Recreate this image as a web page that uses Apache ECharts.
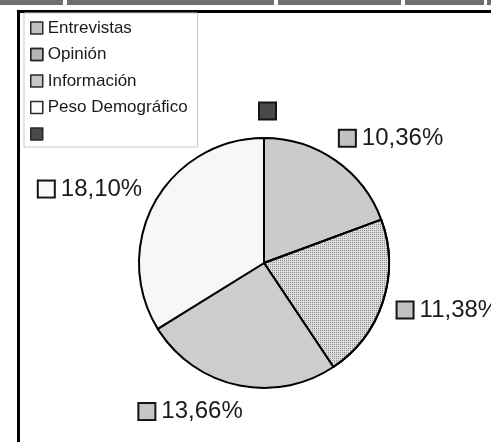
<!DOCTYPE html>
<html>
<head>
<meta charset="utf-8">
<script src="https://cdn.jsdelivr.net/npm/echarts@6/dist/echarts.min.js"></script>
<style>
    html, body { margin: 0; padding: 0; background: #fff; }
    #main { width: 491px; height: 442px; }
</style>
</head>
<body>
<div id="main"></div>
<script>
// categories (the last one has no name in the source, only a dark key)
const categories = ['Entrevistas', 'Opinión', 'Información', 'Peso Demográfico', ' ']
// percentages shown on the labels
const values = [10.36, 11.38, 13.66, 18.10, 0]

const sliceColors = ['#cbcbcb', '#dcdcdc', '#cdcdcd', '#f7f7f7', '#505050']
const keyColors = ['#c2c2c2', '#c2c2c2', '#c6c6c6', '#fbfbfb', '#4a4a4a']

const font = 'Liberation Sans, Arial, sans-serif'

function fmt(v) {
    if (!v) return ''
    return v.toFixed(2).replace('.', ',') + '%'
}

let rich = {
    t: { fontSize: 24, color: '#1a1a1a', fontFamily: font, padding: [0, 0, 0, 7] }
}
keyColors.forEach(function(c, i) {
    rich['k' + i] = { width: 15, height: 15, backgroundColor: c, borderColor: '#151515', borderWidth: 2 }
})

let option = {
    animation: false,
    backgroundColor: '#fff',
    graphic: [
        // strip of the page header above the frame
        { type: 'rect', shape: { x: 0, y: 0, width: 63, height: 5 }, style: { fill: '#6e6e6e' } },
        { type: 'rect', shape: { x: 67, y: 0, width: 207, height: 5 }, style: { fill: '#6e6e6e' } },
        { type: 'rect', shape: { x: 278, y: 0, width: 123, height: 5 }, style: { fill: '#6e6e6e' } },
        { type: 'rect', shape: { x: 405, y: 0, width: 79, height: 5 }, style: { fill: '#6e6e6e' } },
        { type: 'rect', shape: { x: 487, y: 0, width: 4, height: 5 }, style: { fill: '#6e6e6e' } },
        // frame
        { type: 'rect', shape: { x: 18.5, y: 11.5, width: 490, height: 450 }, style: { fill: null, stroke: '#000', lineWidth: 3 } }
    ],
    legend: {
        orient: 'vertical',
        left: 24,
        top: 13,
        padding: [5, 10, 3, 6],
        itemGap: 6.5,
        itemWidth: 12,
        itemHeight: 12,
        icon: 'rect',
        backgroundColor: '#fff',
        borderColor: '#c8c8c8',
        borderWidth: 1,
        textStyle: { fontSize: 17, fontFamily: font, color: '#1a1a1a', lineHeight: 20 },
        itemStyle: { borderColor: '#2a2a2a', borderWidth: 1.5 },
        data: categories.map(function(name, i) {
            return { name: name, itemStyle: { color: keyColors[i], decal: null } }
        })
    },
    series: [
        {
            type: 'pie',
            center: [264, 263],
            radius: 125,
            startAngle: 90,
            clockwise: true,
            avoidLabelOverlap: false,
            emphasis: { disabled: true },
            itemStyle: { borderColor: '#000', borderWidth: 2 },
            label: {
                show: true,
                position: 'outside',
                distanceToLabelLine: 5,
                formatter: function(p) {
                    let txt = fmt(values[p.dataIndex])
                    return '{k' + p.dataIndex + '|}' + (txt ? '{t|' + txt + '}' : '')
                },
                rich: rich
            },
            labelLine: { show: false, length: 27, length2: -16 },
            data: categories.map(function(name, i) {
                let item = { name: name, value: values[i], itemStyle: { color: sliceColors[i] } }
                if (i === 1) {
                    item.itemStyle.decal = {
                        symbol: 'rect',
                        symbolSize: 1,
                        dashArrayX: [1, 1],
                        dashArrayY: [1, 1],
                        color: '#8e8e8e'
                    }
                }
                return item
            })
        }
    ]
}

var myChart = echarts.init(document.getElementById('main'))
myChart.setOption(option)
</script>
</body>
</html>
